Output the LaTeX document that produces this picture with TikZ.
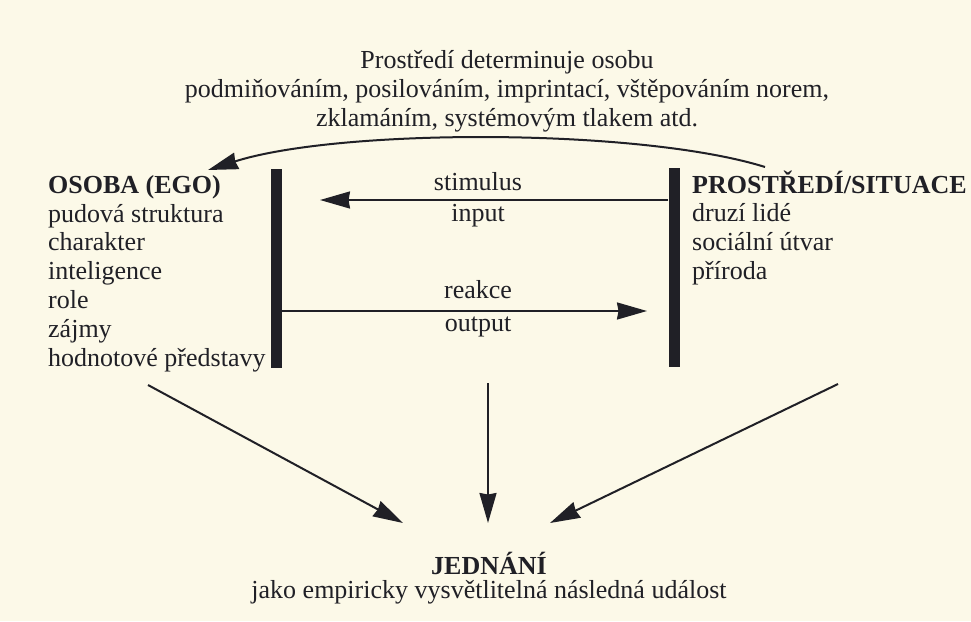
\documentclass[tikz,border=0pt]{standalone}
\usepackage{fontspec}
\setmainfont{Liberation Serif}
\usetikzlibrary{arrows.meta}
\definecolor{paper}{RGB}{252,249,232}
\definecolor{ink}{RGB}{32,32,38}

\begin{document}
\begin{tikzpicture}[x=1pt,y=-1pt,
    txt/.style={inner sep=0pt,text=ink,font=\fontsize{26}{28.8}\selectfont},
    bar/.style={fill=ink,inner sep=0pt,minimum width=11pt,minimum height=199pt},
    arr/.style={draw=ink,line width=2pt,-{Stealth[length=30pt,width=17pt,inset=1.5pt]}}]
    \fill[paper] (0,0) rectangle (971,621);
    \useasboundingbox (0,0) rectangle (971,621);

    %NODE
    \node[txt,align=center,anchor=base,font=\fontsize{26}{29}\selectfont] (top) at (507,126) {Prostředí determinuje osobu\\
        podmiňováním, posilováním, imprintací, vštěpováním norem,\\
        zklamáním, systémovým tlakem atd.};
    \node[txt,align=left,anchor=base west] (ego) at (48,366) {\textbf{OSOBA (EGO)}\\
        pudová struktura\\charakter\\inteligence\\role\\zájmy\\hodnotové představy};
    \node[txt,align=left,anchor=base west] (env) at (692,279.4) {\textbf{PROSTŘEDÍ/SITUACE}\\
        druzí lidé\\sociální útvar\\příroda};
    \node[bar] (egobar) at (276,268.5) {};
    \node[bar] (envbar) at (674,267.5) {};
    \node[txt,anchor=base] (stim) at (478,190) {stimulus};
    \node[txt,anchor=base] (inp) at (478,221) {input};
    \node[txt,anchor=base] (reak) at (478,298) {reakce};
    \node[txt,anchor=base] (outp) at (478,331) {output};
    \node[txt,anchor=base,font=\fontsize{26}{29}\selectfont\bfseries] (act) at (489,574) {JEDNÁNÍ};
    \node[txt,anchor=base] (actsub) at (489,598) {jako empiricky vysvětlitelná následná událost};

    \coordinate (curvestart) at (765,167);
    \coordinate (curvetip) at (208,170);
    \coordinate (stimtip) at (320,200);
    \coordinate (reaktip) at (647,311);
    \coordinate (egofoot) at (148,385);
    \coordinate (midfoot) at (488,383);
    \coordinate (envfoot) at (838,384);
    \coordinate (lefttip) at (403,523);
    \coordinate (midtip) at (488,523);
    \coordinate (righttip) at (550,523);

    %EDGE
    \draw[arr] (curvestart) .. controls (640,128) and (340,128) .. (curvetip);
    \draw[arr] (envbar.west |- stimtip) -- (stimtip);
    \draw[arr] (egobar.east |- reaktip) -- (reaktip);
    \draw[arr] (egofoot) -- (lefttip);
    \draw[arr] (midfoot) -- (midtip);
    \draw[arr] (envfoot) -- (righttip);
\end{tikzpicture}
\end{document}
